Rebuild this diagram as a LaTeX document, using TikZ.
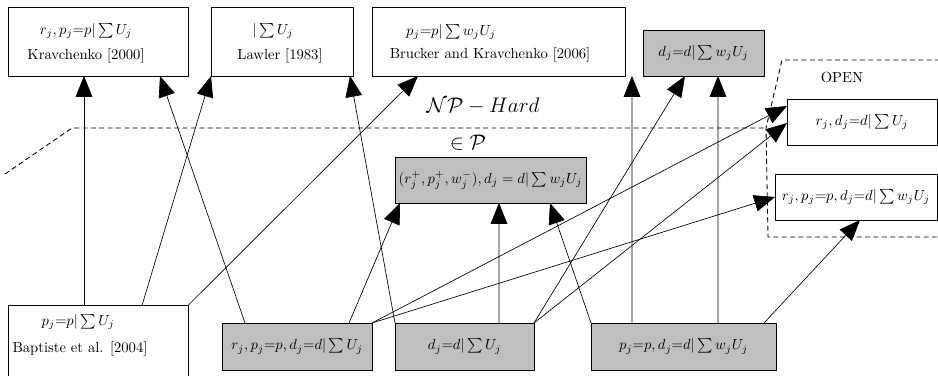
\documentclass[tikz,border=0pt]{standalone}
\usetikzlibrary{arrows.meta}
\tikzset{
  plain/.style  = {rectangle, draw=black, fill=white, line width=0.5pt,
                   outer sep=0pt, inner sep=1pt, font=\normalsize},
  solved/.style = {rectangle, draw=black, fill=gray!50, line width=0.5pt,
                   outer sep=0pt, inner sep=1pt, font=\normalsize},
  note/.style   = {inner sep=0pt, font=\normalsize},
  flow/.style   = {-{Triangle[length=5mm,width=4mm]}, line width=0.45pt},
  zone/.style   = {draw=black, line width=0.6pt, dash pattern=on 3.4pt off 2.3pt},
}

\begin{document}
\begin{tikzpicture}[x=0.024cm, y=-0.024cm]
      \clip (0,0) rectangle (938,375);
      % NP-hard problems (top row)
      \node[plain, minimum width=4.32cm, minimum height=1.656cm]  (krav) at (98,41.5) {};
      \node[note] (krav-t1) at (86,31) {$r_j, p_j{=}p|\sum U_j$};
      \node[note] (krav-t2) at (86,56) {Kravchenko [2000]};
      \node[plain, minimum width=3.408cm, minimum height=1.656cm] (lawler) at (282,41.5) {};
      \node[note] (lawler-t1) at (273,31) {$|\sum U_j$};
      \node[note] (lawler-t2) at (280,56) {Lawler [1983]};
      \node[plain, minimum width=6.072cm, minimum height=1.656cm] (brucker) at (498.5,41.5) {};
      \node[note] (brucker-t1) at (451,32) {$p_j{=}p|\sum w_jU_j$};
      \node[note] (brucker-t2) at (490,55) {Brucker and Kravchenko [2006]};
      \node[solved, minimum width=2.904cm, minimum height=1.104cm] (wdd) at (703.5,53) {$d_j{=}d|\sum w_jU_j$};
      % open problems
      \node[plain, minimum width=3.6cm, minimum height=1.104cm]   (rdd) at (862,122) {$r_j, d_j{=}d|\sum U_j$};
      \node[plain, minimum width=3.888cm, minimum height=1.104cm] (rpdw) at (856,197) {$r_j, p_j{=}p, d_j{=}d|\sum w_jU_j$};
      % polynomial problems
      \node[solved, minimum width=4.584cm, minimum height=1.104cm] (rpw) at (490.5,180) {$(r_j^+, p_j^+, w_j^-), d_j = d|\sum w_jU_j$};
      \node[plain, minimum width=4.32cm, minimum height=1.8cm] (bapt) at (98,343) {};
      \node[note] (bapt-t1) at (78,322) {$p_j{=}p|\sum U_j$};
      \node[note] (bapt-t2) at (80,349) {Baptiste et al. [2004]};
      \node[solved, minimum width=3.6cm, minimum height=1.128cm]   (rpd) at (297,346.5) {$r_j, p_j{=}p, d_j{=}d|\sum U_j$};
      \node[solved, minimum width=3.336cm, minimum height=1.128cm] (dd) at (464.5,346.5) {$d_j{=}d|\sum U_j$};
      \node[solved, minimum width=4.44cm, minimum height=1.128cm]  (pdw) at (683.5,346.5) {$p_j{=}p, d_j{=}d|\sum w_jU_j$};
      % zones
      \draw[zone] (5,174) -- (72,128) -- (766,128);
      \draw[zone] (940,60) -- (782,60) -- (766,128) -- (768,237) -- (940,237);
      \node[note, font=\Large] (nphard) at (483,106) {$\mathcal{NP}-Hard$};
      \node[note, font=\Large] (inp) at (468,143) {$\in\mathcal{P}$};
      \node[note] (open) at (842,77) {OPEN};
      % reductions
      \draw[flow] ([xshift=-0.336cm]bapt.north) -- ([xshift=-0.336cm]krav.south);
      \draw[flow] ([xshift=1.056cm]bapt.north) -- (lawler.south west);
      \draw[flow] (bapt.north east) -- ([xshift=-1.932cm]brucker.south);
      \draw[flow] ([xshift=-1.248cm]rpd.north) -- ([xshift=1.488cm]krav.south);
      \draw[flow] ([xshift=1.248cm]rpd.north) -- ([xshift=-2.172cm]rpw.south);
      \draw[flow] (rpd.north east) -- ([yshift=0.384cm]rdd.west);
      \draw[flow] (rpd.north east) -- (rpdw.west);
      \draw[flow] (dd.north west) -- ([xshift=-0.072cm]lawler.south east);
      \draw[flow] ([xshift=0.828cm]dd.north) -- ([xshift=0.204cm]rpw.south);
      \draw[flow] (dd.north east) -- ([xshift=-0.444cm]wdd.south);
      \draw[flow] (dd.north east) -- ([yshift=-0.024cm]rdd.west);
      \draw[flow] (pdw.north west) -- ([xshift=1.428cm]rpw.south);
      \draw[flow] ([xshift=-1.236cm]pdw.north) -- ([xshift=0.168cm]brucker.south east);
      \draw[flow] ([xshift=0.828cm]pdw.north) -- ([xshift=0.348cm]wdd.south);
      \draw[flow] ([xshift=1.932cm]pdw.north) -- ([xshift=0.096cm]rpdw.south);
    \end{tikzpicture}
\end{document}
